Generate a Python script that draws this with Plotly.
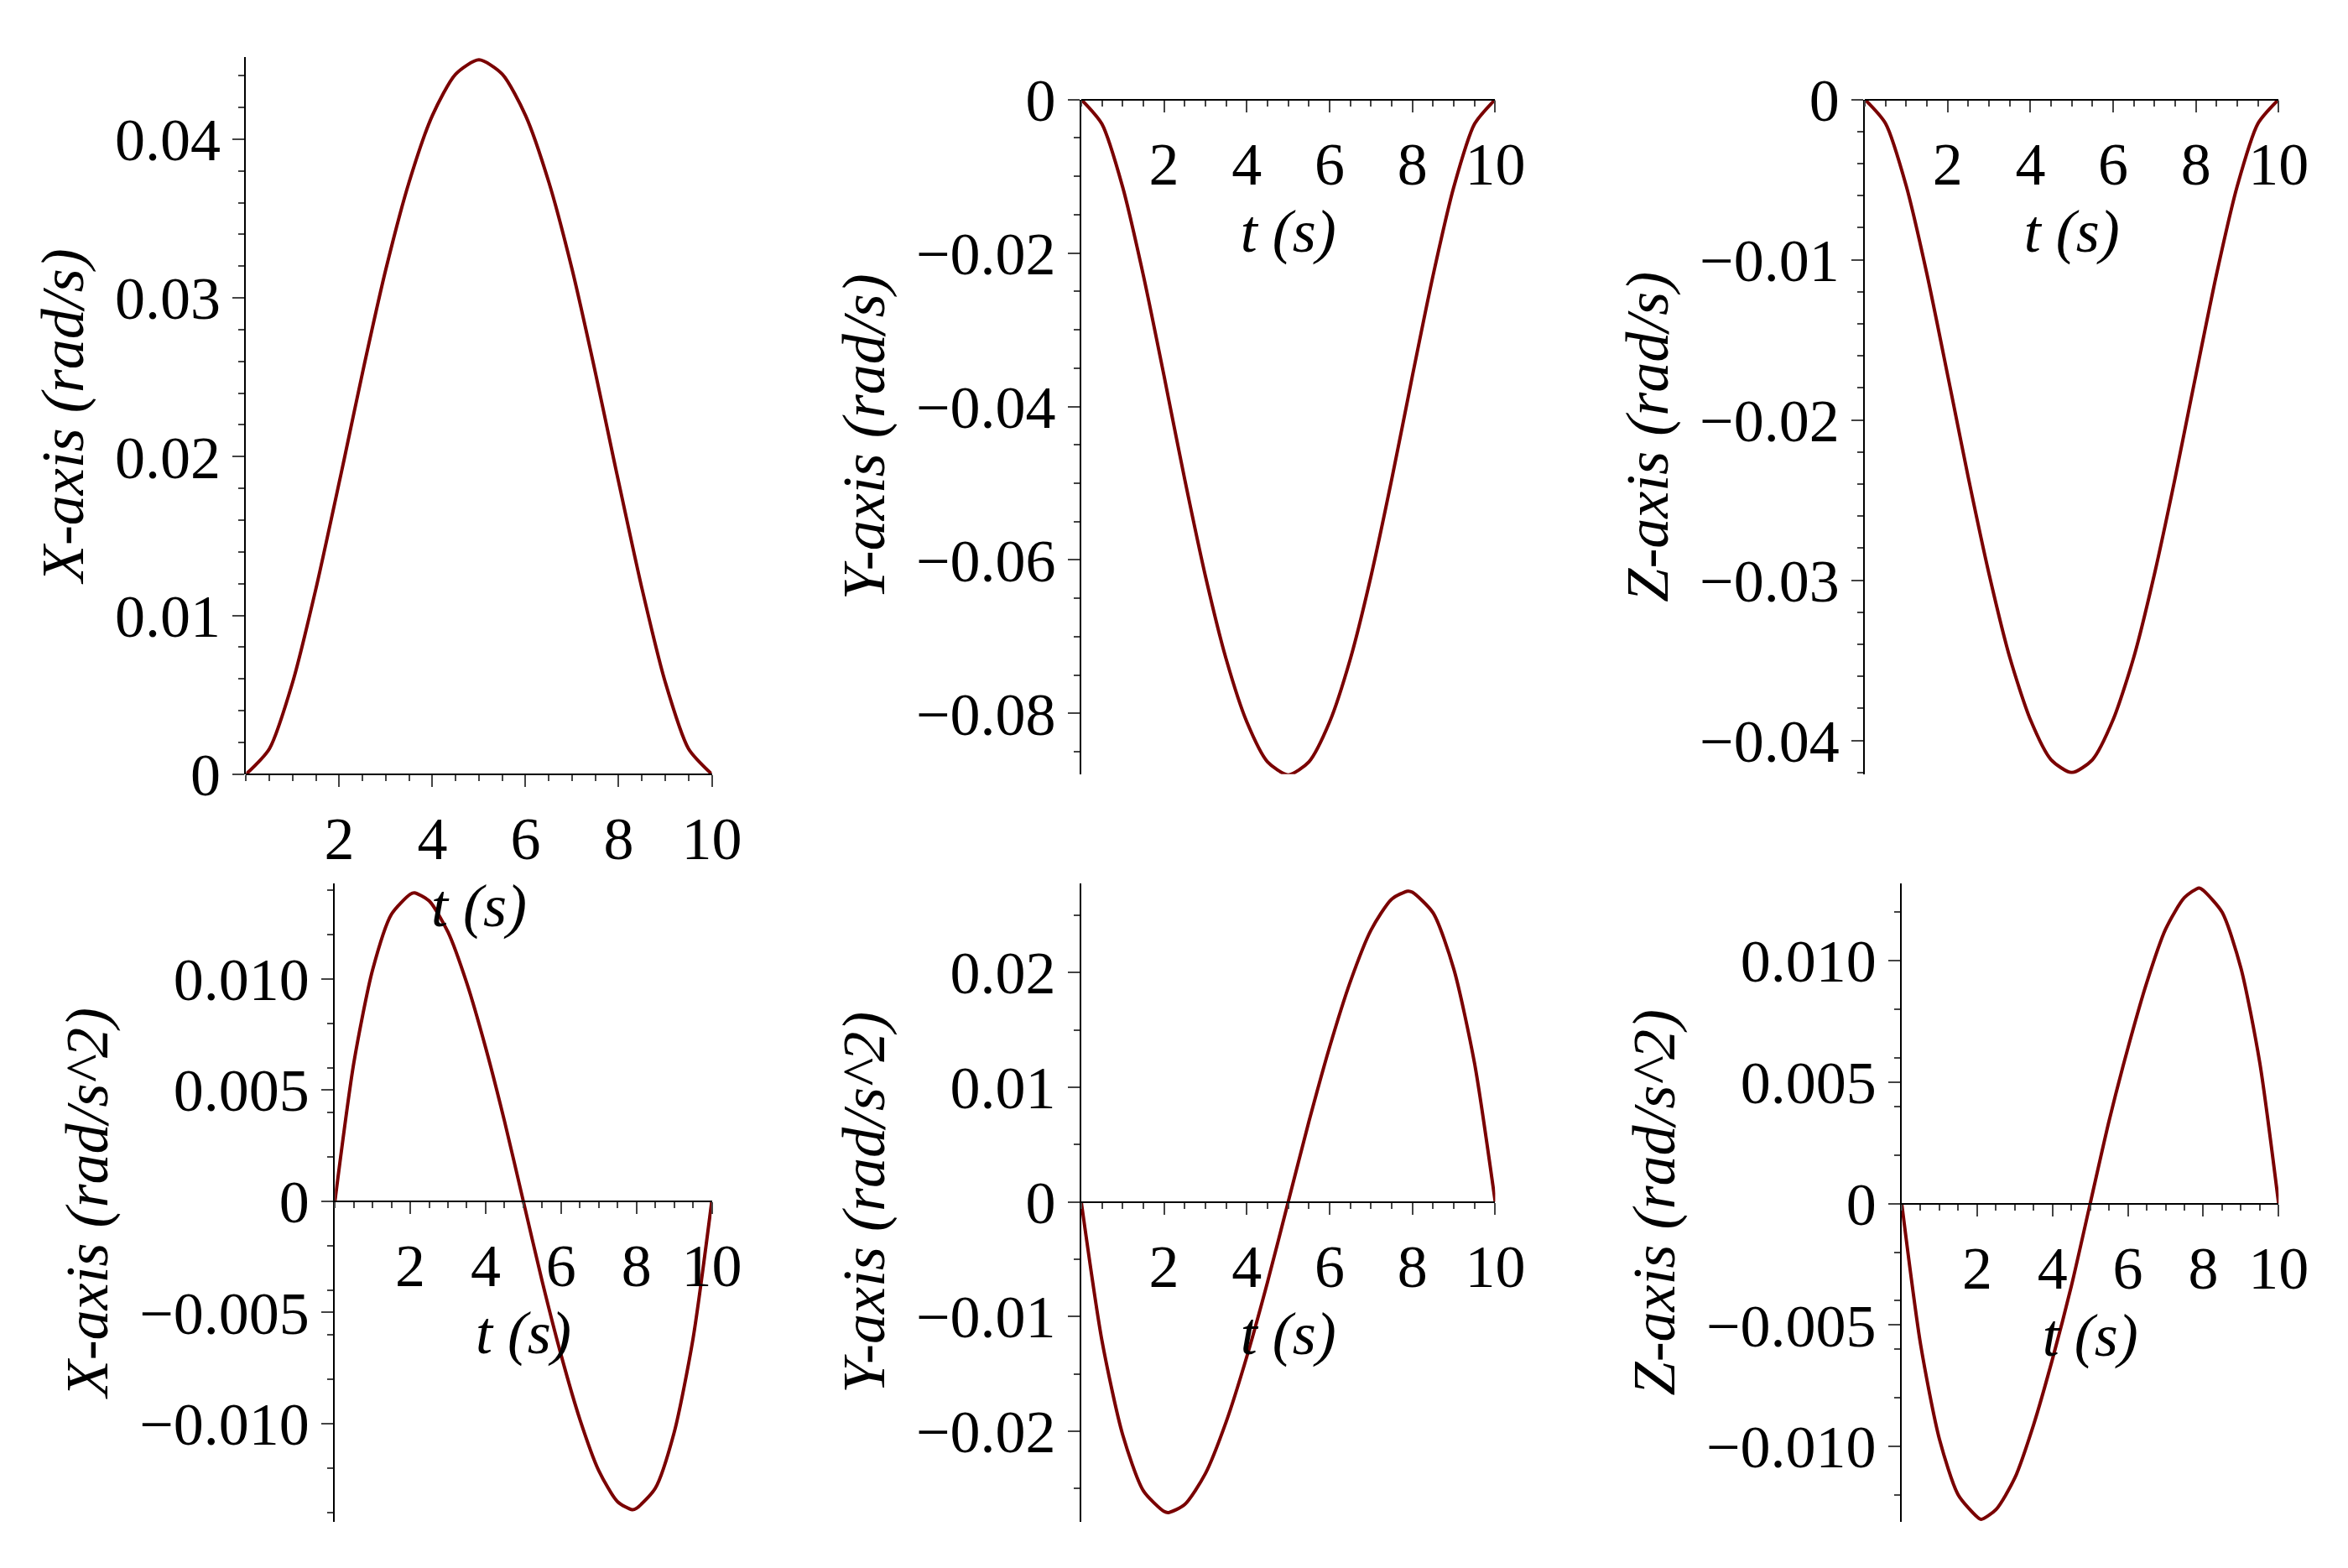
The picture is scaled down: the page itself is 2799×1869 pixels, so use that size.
import plotly.graph_objects as go

t = [0, 0.5, 1, 1.5, 2, 2.11, 2.5, 3, 3.5, 4, 4.5, 5, 5.5, 6, 6.5, 7, 7.5, 7.89, 8, 8.5, 9, 9.5, 10]

vel_x = [0, 0.0016, 0.0058, 0.0117, 0.0184, 0.0199, 0.0253, 0.0318, 0.0373, 0.0415, 0.0441, 0.0450,
         0.0441, 0.0415, 0.0373, 0.0318, 0.0253, 0.0199, 0.0184, 0.0117, 0.0058, 0.0016, 0]
vel_y = [0, -0.0032, -0.0114, -0.0229, -0.0360, -0.0390, -0.0495, -0.0621, -0.0729, -0.0811, -0.0863, -0.0880,
         -0.0863, -0.0811, -0.0729, -0.0621, -0.0495, -0.0390, -0.0360, -0.0229, -0.0114, -0.0032, 0]
vel_z = [0, -0.0015, -0.0054, -0.0109, -0.0172, -0.0186, -0.0236, -0.0296, -0.0348, -0.0387, -0.0412, -0.0420,
         -0.0412, -0.0387, -0.0348, -0.0296, -0.0236, -0.0186, -0.0172, -0.0109, -0.0054, -0.0015, 0]
acc_x = [0, 0.0062, 0.0104, 0.0129, 0.0138, 0.01386, 0.0135, 0.0121, 0.0098, 0.0069, 0.0036, 0,
         -0.0036, -0.0069, -0.0098, -0.0121, -0.0135, -0.01386, -0.0138, -0.0129, -0.0104, -0.0062, 0]
acc_y = [0, -0.0121, -0.0203, -0.0252, -0.0270, -0.0271, -0.0264, -0.0237, -0.0192, -0.0135, -0.0070, 0,
         0.0070, 0.0135, 0.0192, 0.0237, 0.0264, 0.0271, 0.0270, 0.0252, 0.0203, 0.0121, 0]
acc_z = [0, -0.0058, -0.0097, -0.0120, -0.0129, -0.0130, -0.0126, -0.0113, -0.0091, -0.0064, -0.0034, 0,
         0.0034, 0.0064, 0.0091, 0.0113, 0.0126, 0.0130, 0.0129, 0.0120, 0.0097, 0.0058, 0]

x_ticks = [2, 4, 6, 8, 10]
titles = ["X-axis (rad/s)", "Y-axis (rad/s)", "Z-axis (rad/s)",
          "X-axis (rad/s^2)", "Y-axis (rad/s^2)", "Z-axis (rad/s^2)"]
yticks = [
    ([0, 0.01, 0.02, 0.03, 0.04], ["0", "0.01", "0.02", "0.03", "0.04"]),
    ([0, -0.02, -0.04, -0.06, -0.08], ["0", "−0.02", "−0.04", "−0.06", "−0.08"]),
    ([0, -0.01, -0.02, -0.03, -0.04], ["0", "−0.01", "−0.02", "−0.03", "−0.04"]),
    ([-0.010, -0.005, 0, 0.005, 0.010], ["−0.010", "−0.005", "0", "0.005", "0.010"]),
    ([-0.02, -0.01, 0, 0.01, 0.02], ["−0.02", "−0.01", "0", "0.01", "0.02"]),
    ([-0.010, -0.005, 0, 0.005, 0.010], ["−0.010", "−0.005", "0", "0.005", "0.010"]),
]
series = [vel_x, vel_y, vel_z, acc_x, acc_y, acc_z]
yranges = [(0, 0.0452), (-0.0879, 0), (-0.0421, 0), (-0.0144, 0.0143), (-0.0279, 0.0278), (-0.0131, 0.0132)]
xdoms = [(0.1033, 0.3042), (0.4636, 0.6422), (0.8017, 0.9802),
         (0.1416, 0.3042), (0.4636, 0.6422), (0.8176, 0.9802)]
ydoms = [(0.5105, 0.9885), (0.5105, 0.96), (0.5105, 0.96),
         (0.0124, 0.4379), (0.0124, 0.4379), (0.0124, 0.4379)]

FONT = "Liberation Serif"
FS = 72
fig = go.Figure()
layout = {}
for i in range(6):
    n = "" if i == 0 else str(i + 1)
    fig.add_trace(go.Scatter(x=t, y=series[i], mode="lines",
                             line=dict(color="#7a0000", width=4, shape="spline", smoothing=0.7),
                             xaxis="x" + n, yaxis="y" + n, showlegend=False, hoverinfo="skip"))
    y0, y1 = yranges[i]
    d0, d1 = ydoms[i]
    pos = d0 + (0 - y0) / (y1 - y0) * (d1 - d0)
    layout["xaxis" + n] = dict(domain=list(xdoms[i]), range=[0, 10], anchor="free", position=pos,
                               showline=True, linecolor="black", linewidth=2,
                               ticks="outside", ticklen=14, tickwidth=2, tickvals=x_ticks,
                               minor=dict(ticks="outside", ticklen=7, dtick=0.5),
                               showgrid=False, zeroline=False,
                               tickfont=dict(family=FONT, size=FS, color="black"),
                               title=dict(text="<i>t (s)</i>", font=dict(family=FONT, size=FS, color="black"), standoff=10))
    layout["yaxis" + n] = dict(domain=[d0, d1], range=[y0, y1], anchor="x" + n, showline=True,
                               linecolor="black", linewidth=2, ticks="outside", ticklen=14, tickwidth=2,
                               tickvals=yticks[i][0], ticktext=yticks[i][1],
                               minor=dict(ticks="outside", ticklen=7),
                               showgrid=False, zeroline=False,
                               tickfont=dict(family=FONT, size=FS, color="black"),
                               title=dict(text="<i>" + titles[i] + "</i>", font=dict(family=FONT, size=FS, color="black"), standoff=14))
fig.update_layout(**layout)
fig.update_layout(width=2799, height=1869, margin=dict(l=0, r=0, t=0, b=0),
                  plot_bgcolor="white", paper_bgcolor="white")
fig.write_html("out.html")
